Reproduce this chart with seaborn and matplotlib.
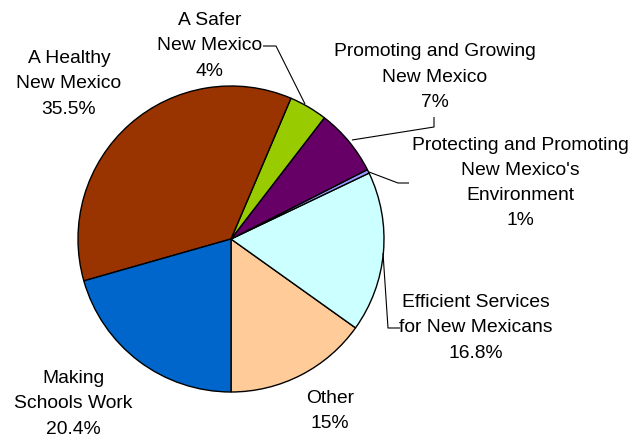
import matplotlib
matplotlib.use("Agg")
import matplotlib.pyplot as plt
import seaborn as sns
import numpy as np

# ---- data ----
categories = ["Other", "Efficient Services\nfor New Mexicans",
              "Protecting and Promoting\nNew Mexico's\nEnvironment",
              "Promoting and Growing\nNew Mexico", "A Safer\nNew Mexico",
              "A Healthy\nNew Mexico", "Making\nSchools Work"]
values = [15, 16.8, 0.4, 7, 4, 35.5, 20.4]
pct_labels = ["15%", "16.8%", "1%", "7%", "4%", "35.5%", "20.4%"]
colors = ["#FFCC99", "#CCFFFF", "#9999FF", "#660066", "#99CC00", "#993300", "#0066CC"]

sns.set_theme(style="white")
plt.rcParams['font.family'] = ['Liberation Sans', 'DejaVu Sans']

W, H = 629, 438
fig = plt.figure(figsize=(W / 100, H / 100), dpi=100)
ax = fig.add_axes([0, 0, 1, 1])

cx, cy, r = 231, H - 239, 153
ax.pie(values, colors=sns.color_palette(colors), startangle=270, counterclock=True,
       center=(cx, cy), radius=r, frame=True,
       wedgeprops=dict(edgecolor='black', linewidth=1.0))
ax.set_xlim(0, W)
ax.set_ylim(0, H)
ax.set_aspect('equal')
ax.axis('off')

def y(py):
    return H - py

# label positions (pixel coords of text centre)
pos = {
    0: (330, 411),
    1: (476, 328),
    2: (520, 183),
    3: (435, 77),
    4: (210, 46),
    5: (69, 84),
    6: (73, 404),
}
fs = 13.9
for i, (px, py) in pos.items():
    ax.text(px, y(py), categories[i] + "\n" + pct_labels[i], ha='center', va='center',
            fontsize=fs, color='black', linespacing=1.62)

# leader lines
leaders = [
    [(263, 46), (276, 46), (305, 104)],
    [(434, 117), (434, 127), (352, 140)],
    [(369, 172), (398, 183), (409, 183)],
    [(383, 253), (388, 328), (400, 328)],
]
for pts in leaders:
    xs = [p[0] for p in pts]
    ys = [y(p[1]) for p in pts]
    ax.plot(xs, ys, color='black', linewidth=0.8, solid_capstyle='butt')

fig.savefig("out.png", dpi=100, facecolor='white')
